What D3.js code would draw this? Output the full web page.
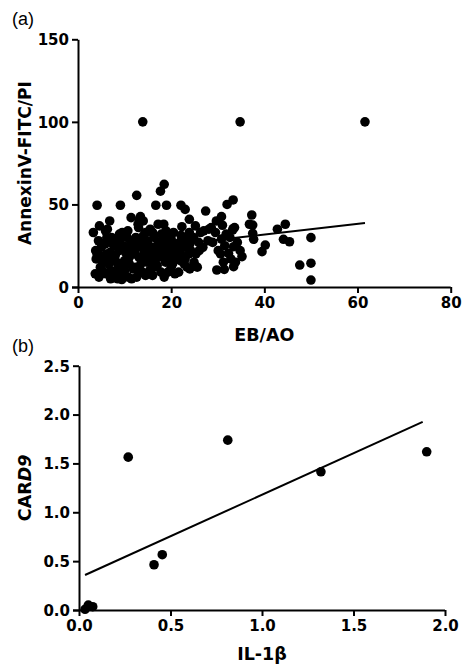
<!DOCTYPE html>
<html>
<head>
<meta charset="utf-8">
<script src="https://cdn.jsdelivr.net/npm/d3@7"></script>
<style>
  html, body { margin: 0; padding: 0; background: #fff; }
  svg { display: block; }
  .tick text { font-family: "DejaVu Sans", sans-serif; font-weight: bold; font-size: 15px; fill: #000; }
  .title { font-family: "DejaVu Sans", sans-serif; font-weight: bold; font-size: 17.5px; fill: #000; }
  .panel { font-family: "Liberation Sans", Arial, sans-serif; font-size: 18px; fill: #000; }
</style>
</head>
<body>
<script>
// ---------- Data ----------
const ticksAx = [0, 20, 40, 60, 80];
const ticksAy = [0, 50, 100, 150];
const ticksBx = [0, 0.5, 1.0, 1.5, 2.0];
const ticksBy = [0, 0.5, 1.0, 1.5, 2.0, 2.5];

// Panel (a): EB/AO (x) vs AnnexinV-FITC/PI (y)
const ebao = [13.9,34.8,61.6,
  4.1,9.1,12.6,16.7,17.7,18.5,19,22.1,23,18.4,27.4,32,33.3,30.8,29.7,31,28.1,33.3,25.2,36.8,37.3,37.5,37.5,37.7,40.2,39.5,44.5,42.8,44.1,45.4,50,47.6,50,50,6.8,4.6,11.4,13.2,3.3,22.1,23.9,22.3,
  3.7,4.5,4.8,5.5,4.1,3.8,5,5.8,6.2,5.2,4.4,5.9,3.9,
  6.3,7.2,8,6.9,7.5,8.3,7,8.6,8.8,8.2,8.5,6.2,7.7,6.6,8.9,
  9.5,10.5,9.8,10.2,11,9.6,9.3,10.8,11.5,11.8,11.6,11.3,10.7,9.2,10,11,9.4,
  13.4,14,13,14.5,12.4,13.6,12.8,14.2,13.1,14.8,12.3,13.8,12.6,14.5,14.9,12.2,15,13.5,14,12.9,
  17.2,15.5,16.3,17.5,15.8,16.9,17.3,15.6,16.4,17.8,16,15.2,17.9,17,16.5,15.4,
  19.5,20.2,18.6,19.8,20.6,18.8,20,19.3,18.5,20.8,18.2,21,20.5,19,18.9,20.3,
  23.5,21.8,22.6,23.8,21.5,22.8,23.4,21.6,24,24.2,23.9,22,22.5,
  26.3,24.8,25.9,26.8,25.3,24.9,25.6,27.9,27,25,26,
  28.6,29.5,30.8,31.5,30.1,30.6,31.2,29.8,31.4,31.8,28.9,
  33.2,32.6,33.4,32.3,35.2,33.4,34.2,34.8,33.8,33.6,32.8,
  5,6,7,8,9,10,11,12,13,14,15,16,17,18,19,20,16,14,21,22,23,24,20,6,7,10];
const annexin = [100,100,100,
  49.5,49.5,55.5,49.5,58,62.2,49.5,49.5,47,38,46,50,52.7,42.6,40,37.4,35,35.3,37,38,43.6,37.5,32.5,28.9,25.4,21.4,38,35,28.9,27.4,29.9,13.3,14.4,4.2,40,37,42,41,33,31.3,41,36.5,
  8,6,12,15,20,22,18,26,30,10,28,34,17,
  35,30,28,21,18,15,10,12,22,7,5,20,25,14,32,
  33,30,25,21,18,14,8,6,5,11,20,28,34,24,10,14,4.5,
  42.6,40,36,33,30,27,24,21,18,15,12,9,6,7,28,20,23,14,31,38,
  38,35,30,27,24,21,18,15,12,9,7,20,32,25,17,10,
  30,27,24,21,18,15,12,9,6,8,28,22,33,18,34,14,
  30,27,24,20,18,14,12,9,11,22,33,16,28,
  33,30,27,24,20,15,12,28,34,13,22,
  36,33,29,25,22,20,15,10.3,10.7,32,27,
  34.5,30,24.4,20.4,18.4,12.3,27,22,15,36,17,
  24,16,27,19,29,16,23,26,10,17,26,19,13,22,26,24,33,25,25,20,17,26,29,8,5,7];
// fitted line (a), endpoints
const fitAx = [3.3, 61.6];
const fitAy = [20.1, 38.7];

// Panel (b): IL-1β (x) vs CARD9 (y)
const il1b  = [0.269, 0.813, 1.900, 1.322, 0.410, 0.455, 0.033, 0.051, 0.075];
const card9 = [1.564, 1.738, 1.619, 1.414, 0.463, 0.566, 0.007, 0.050, 0.034];
const fitBx = [0.033, 1.878];
const fitBy = [0.358, 1.925];

// ---------- Drawing ----------
const W = 462, H = 669;
const svg = d3.select("body").append("svg").attr("width", W).attr("height", H);

function panel(opts) {
  const g = svg.append("g");
  const x = d3.scaleLinear().domain(opts.xDomain).range(opts.xRange);
  const y = d3.scaleLinear().domain(opts.yDomain).range(opts.yRange);

  const ax = g.append("g").attr("transform", `translate(0,${opts.yRange[0]})`)
    .call(d3.axisBottom(x).tickValues(opts.xTicks).tickFormat(opts.fmt).tickSize(6).tickSizeOuter(0).tickPadding(4));
  const ay = g.append("g").attr("transform", `translate(${opts.xRange[0]},0)`)
    .call(d3.axisLeft(y).tickValues(opts.yTicks).tickFormat(opts.fmt).tickSize(6).tickSizeOuter(0).tickPadding(3));
  [ax, ay].forEach(a => {
    a.select(".domain").attr("stroke", "#000").attr("stroke-width", 2);
    a.selectAll(".tick line").attr("stroke", "#000").attr("stroke-width", 2);
  });
  ax.select(".domain").attr("d", `M${opts.xRange[0]-6},0.5H${opts.xRange[1]}`);
  ay.selectAll(".tick text").attr("dy", "0.36em");

  const pts = opts.xs.map((v, i) => [v, opts.ys[i]]);
  g.append("g").selectAll("circle").data(pts).join("circle")
    .attr("cx", d => x(d[0])).attr("cy", d => y(d[1])).attr("r", 4.8).attr("fill", "#000");

  g.append("line")
    .attr("x1", x(opts.fitX[0])).attr("y1", y(opts.fitY[0]))
    .attr("x2", x(opts.fitX[1])).attr("y2", y(opts.fitY[1]))
    .attr("stroke", "#000").attr("stroke-width", 2);

  // x title
  const xt = g.append("text").attr("class", "title").attr("text-anchor", "middle")
    .attr("x", (opts.xRange[0] + opts.xRange[1]) / 2).attr("y", opts.xTitleY);
  opts.xTitle(xt);
  // y title
  const yt = g.append("text").attr("class", "title").attr("text-anchor", "middle")
    .attr("transform", `translate(${opts.yTitleX},${(opts.yRange[0] + opts.yRange[1]) / 2}) rotate(-90)`);
  opts.yTitle(yt);
  // panel label
  g.append("text").attr("class", "panel").attr("x", 12).attr("y", opts.labelY).text(opts.label);
}

panel({
  xDomain: [0, 80], xRange: [78, 450.7],
  yDomain: [0, 150], yRange: [287, 39.3],
  xTicks: ticksAx, yTicks: ticksAy, fmt: d3.format("d"),
  xs: ebao, ys: annexin, fitX: fitAx, fitY: fitAy,
  xTitleY: 341, yTitleX: 31,
  xTitle: t => t.text("EB/AO"),
  yTitle: t => t.style("font-size", "17px").text("AnnexinV-FITC/PI"),
  label: "(a)", labelY: 25
});

panel({
  xDomain: [0, 2], xRange: [79, 445],
  yDomain: [0, 2.5], yRange: [610, 365.7],
  xTicks: ticksBx, yTicks: ticksBy, fmt: d3.format(".1f"),
  xs: il1b, ys: card9, fitX: fitBx, fitY: fitBy,
  xTitleY: 660, yTitleX: 31,
  xTitle: t => t.text("IL-1β"),
  yTitle: t => { t.append("tspan").text("CAR"); t.append("tspan").attr("font-style", "italic").text("D9"); },
  label: "(b)", labelY: 352
});
</script>
</body>
</html>
